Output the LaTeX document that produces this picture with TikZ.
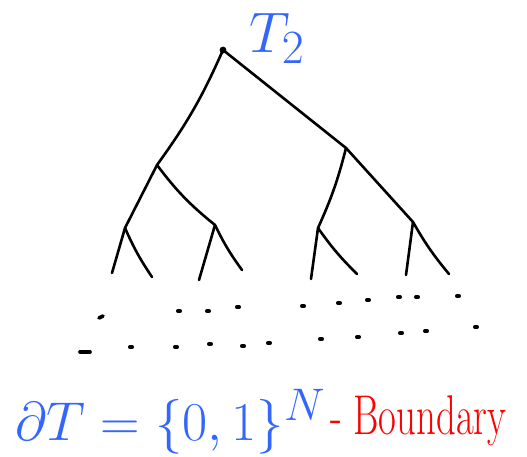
\documentclass[tikz,border=0pt]{standalone}
\usepackage{amsmath}
\usetikzlibrary{positioning}
\definecolor{penblue}{RGB}{51,102,255}
\definecolor{penred}{RGB}{255,0,0}

\begin{document}
\begin{tikzpicture}[x=1pt, y=-1pt,
  branch/.style={line width=2.6pt, line cap=round, line join=round},
  speck/.style={line width=3.6pt, line cap=round},
  ink/.style={inner sep=0pt, text=penblue, font=\Huge}
]
\useasboundingbox (0,0) rectangle (527,457);

% tree vertices
\coordinate (root) at (223,50);
\coordinate (l)    at (157,165);
\coordinate (r)    at (346,148);
\coordinate (ll)   at (125,228);
\coordinate (lr)   at (215,225);
\coordinate (rl)   at (318,228);
\coordinate (rr)   at (413,222);
% leaves
\coordinate (lll) at (112,273);
\coordinate (llr) at (152,277);
\coordinate (lrl) at (199,280);
\coordinate (lrr) at (242,270);
\coordinate (rll) at (311,279);
\coordinate (rlr) at (357,274);
\coordinate (rrl) at (406,275);
\coordinate (rrr) at (449,274);

\fill (root) circle (3.4pt);
\draw[branch] (root) to[bend left=6] (l);
\draw[branch] (root) -- (r);
\draw[branch] (l) -- (ll);
\draw[branch] (l) to[bend right=7] (lr);
\draw[branch] (r) to[bend left=5] (rl);
\draw[branch] (r) -- (rr);
\foreach \p/\a/\b in {ll/lll/llr, lr/lrl/lrr, rl/rll/rlr, rr/rrl/rrr} {
  \draw[branch] (\p) -- (\a);
  \draw[branch] (\p) to[bend right=5] (\b);
}

% boundary specks
\draw[speck] (99,318) -- (103,316);
\draw[speck] (80,352) -- (90,352);
\foreach \x/\y in {179/311, 208/311, 238/307, 303/306, 339/303, 368/300,
                   399/297, 417/297, 458/296, 131/347, 176/347, 210/344,
                   243/346, 269/343, 321/339, 358/337, 401/333, 426/331, 476/327}
  \draw[speck] (\x-1.2,\y) -- (\x+1.2,\y);

\node[ink] (tname) at (277,38) {\scalebox{2.3}{$T_2$}};
\node[ink, anchor=base west] (formula) at (15,440)
  {\scalebox{2.2}{$\partial T = \{0,1\}^N$}};
\node[inner sep=0pt, text=penred, anchor=base west, font=\fontsize{34}{40}\selectfont]
  (tag) at (330,434) {\scalebox{1.14}[1.65]{- Boundary}};
\end{tikzpicture}
\end{document}
